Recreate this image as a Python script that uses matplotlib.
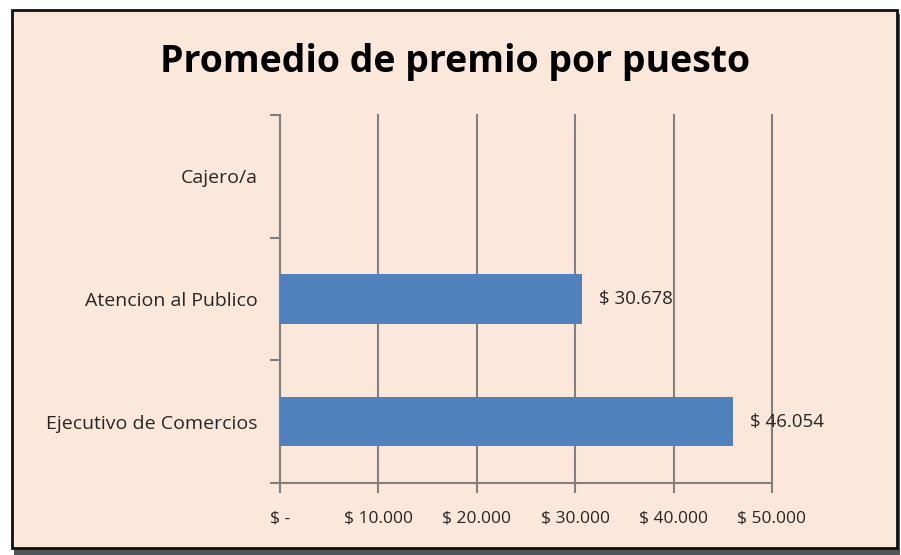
import matplotlib
matplotlib.use("Agg")
import matplotlib.pyplot as plt
from matplotlib.patches import Rectangle
from matplotlib.ticker import FuncFormatter

categories = ["Cajero/a", "Atencion al Publico", "Ejecutivo de Comercios"]
values = [0, 30678, 46054]
xticks = [0, 10000, 20000, 30000, 40000, 50000]

peach = "#FCE8DA"
bar_color = "#4F81BD"
grid_color = "#808080"
text_color = "#262626"


def money(v, pos=None):
    if v == 0:
        return "$ -"
    return "$ " + f"{v:,.0f}".replace(",", ".")


fig = plt.figure(figsize=(9.01, 5.55), dpi=100)
fig.patch.set_facecolor("white")

# shadow + framed chart area (drawn below the axes)
fig.patches.append(Rectangle((14 / 901, 0 / 555), 886 / 901, 541 / 555, transform=fig.transFigure,
                             facecolor="#555555", edgecolor="none", zorder=-2))
fig.patches.append(Rectangle((12 / 901, 7 / 555), 885 / 901, 538 / 555, transform=fig.transFigure,
                             facecolor=peach, edgecolor="#111111", linewidth=2, zorder=-1))

ax = fig.add_axes([280 / 901, 1 - 483 / 555, 492 / 901, 368 / 555])
ax.set_facecolor(peach)
ax.set_zorder(1)

pos = list(range(len(categories)))
bars = ax.barh(pos, values, height=0.4, color=bar_color, zorder=3)

for p, v in zip(pos, values):
    if v:
        ax.text(v + 1700, p, money(v), va="center", ha="left", fontsize=13.5,
                family="Open Sans", color=text_color, zorder=4)

ax.set_xlim(0, 50000)
ax.set_ylim(2.5, -0.5)
ax.set_xticks(xticks)
ax.xaxis.set_major_formatter(FuncFormatter(money))
ax.grid(axis="x", color=grid_color, linewidth=1.5, zorder=1)
ax.set_axisbelow(True)
for gl in ax.get_xgridlines():
    gl.set_clip_on(False)

# y ticks at category boundaries, labels at centres
ax.set_yticks([-0.5, 0.5, 1.5, 2.5])
ax.set_yticklabels([])
ax.set_yticks(pos, minor=True)
ax.set_yticklabels(categories, minor=True)
ax.tick_params(axis="y", which="minor", length=0, pad=16)
ax.tick_params(axis="y", which="major", length=7, width=1.5, color=grid_color)
ax.tick_params(axis="x", length=7, width=1.5, color=grid_color, pad=13)

for lbl in ax.get_xticklabels():
    lbl.set_fontsize(12.5)
    lbl.set_family("Open Sans")
    lbl.set_color(text_color)
for lbl in ax.get_yticklabels(minor=True):
    lbl.set_fontsize(14)
    lbl.set_family("Open Sans")
    lbl.set_color(text_color)

for side in ["top", "right"]:
    ax.spines[side].set_visible(False)
for side in ["left", "bottom"]:
    ax.spines[side].set_color(grid_color)
    ax.spines[side].set_linewidth(1.5)

fig.text(0.505, 1 - 62 / 555, "Promedio de premio por puesto", ha="center", va="center",
         fontsize=27, fontweight="bold", family="Open Sans", color="black")

fig.savefig("out.png", dpi=100, facecolor=fig.get_facecolor())
